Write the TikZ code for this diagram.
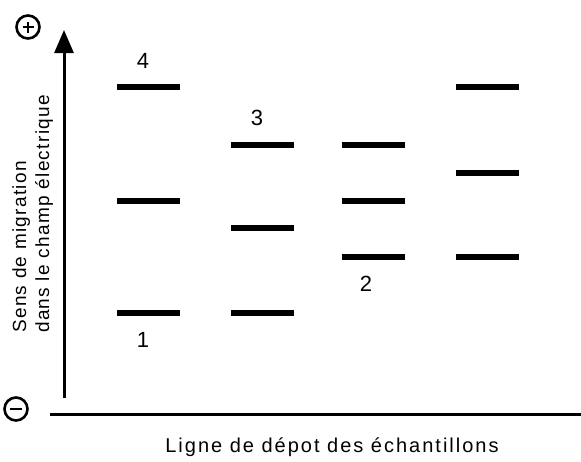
\documentclass[tikz,border=0pt]{standalone}
\usepackage{fontspec}
\setmainfont{Liberation Sans}
\usetikzlibrary{arrows.meta}
\begin{document}
\begin{tikzpicture}[x=1pt,y=-1pt,
  band/.style={rectangle, fill=black, minimum width=63pt, minimum height=6pt, inner sep=0pt},
  lbl/.style={font=\fontsize{22}{24}\selectfont, inner sep=0pt},
  sidetext/.style={font=\fontsize{19}{21}\selectfont\addfontfeature{LetterSpace=7}, inner sep=0pt},
  foottext/.style={font=\fontsize{20}{22}\selectfont\addfontfeature{LetterSpace=10}, inner sep=0pt},
  pole/.style={circle, draw, line width=2.6pt, minimum size=23pt, inner sep=0pt},
  axis/.style={line width=3pt}]
\useasboundingbox (0,0) rectangle (581,461);
% poles
\node[pole] (plus) at (28,27) {};
\draw[line width=2.6pt] ([xshift=-5.5pt]plus.center) -- ([xshift=5.5pt]plus.center);
\draw[line width=2.6pt] ([yshift=-5.5pt]plus.center) -- ([yshift=5.5pt]plus.center);
\node[pole] (minus) at (16,409) {};
\draw[line width=2.6pt] ([xshift=-6pt]minus.center) -- ([xshift=6pt]minus.center);
% axes
\coordinate (abot) at (64,398);
\coordinate (atop) at (64,30);
\draw[axis, -{Triangle[length=23pt,width=19pt]}] (abot) -- (atop);
\coordinate (l0) at (50,414);
\coordinate (l1) at (581,414);
\draw[axis] (l0) -- (l1);
% axis labels
\node[sidetext, rotate=90, anchor=base west] (t1) at (26,333) {Sens de migration};
\node[sidetext, rotate=90, anchor=base west] (t2) at (49,333) {dans le champ électrique};
\node[foottext, anchor=base] (t3) at (332,452) {Ligne de dépot des échantillons};
% bands
\node[band] (b1a) at (148,87) {};
\node[band] (b1b) at (148,201) {};
\node[band] (b1c) at (148,313) {};
\node[band] (b2a) at (262,145) {};
\node[band] (b2b) at (262,228) {};
\node[band] (b2c) at (262,313) {};
\node[band] (b3a) at (373,145) {};
\node[band] (b3b) at (373,201) {};
\node[band] (b3c) at (373,257) {};
\node[band] (b4a) at (487,87) {};
\node[band] (b4b) at (487,173) {};
\node[band] (b4c) at (487,257) {};
% labels
\node[lbl] (n4) at (143,61) {4};
\node[lbl] (n3) at (257,118) {3};
\node[lbl] (n2) at (366,284) {2};
\node[lbl] (n1) at (143,340) {1};
\end{tikzpicture}
\end{document}
